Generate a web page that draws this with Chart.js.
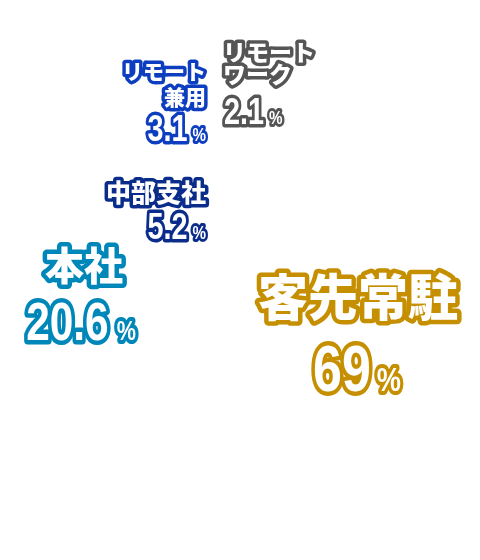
<!DOCTYPE html>
<html>
<head>
<meta charset="utf-8">
<script src="https://cdn.jsdelivr.net/npm/chart.js@4"></script>
<style>
  html, body { margin: 0; padding: 0; background: #ffffff; }
  #wrap { width: 480px; height: 560px; position: relative; }
</style>
</head>
<body>
<div id="wrap"><canvas id="shareChart"></canvas></div>
<script>
// 勤務形態の割合
const categories = ["客先常駐", "本社", "中部支社", "リモート\n兼用", "リモート\nワーク"];
const shares = [69, 20.6, 5.2, 3.1, 2.1];
const labelColors = ["#c58f00", "#0087b9", "#0a2c8a", "#0d3ec0", "#555555"];

// ラベルの配置（見た目用）
const labelLayout = [
  { x: 358, y: 297, align: "center", nameSize: 50, lineH: 0, numX: 357, numY: 391, numSize: 65, pctSize: 34, gap: 6, stroke: 9 },
  { x: 84, y: 265, align: "center", nameSize: 39, lineH: 0, numX: 81, numY: 340, numSize: 53, pctSize: 27, gap: 8, stroke: 9 },
  { x: 206, y: 192, align: "right", nameSize: 25, lineH: 0, numX: 206, numY: 239, numSize: 36, pctSize: 19, gap: 5, stroke: 7 },
  { x: 206, y: 71, align: "right", nameSize: 21, lineH: 26, numX: 206, numY: 141, numSize: 36, pctSize: 19, gap: 5, stroke: 7 },
  { x: 223, y: 52, align: "left", nameSize: 23, lineH: 22, numX: 224, numY: 124, numSize: 36, pctSize: 19, gap: 5, stroke: 7 },
];

const JP_FONT = '"Noto Sans CJK JP", "Noto Sans", sans-serif';
const NUM_FONT = '"Liberation Sans", Arial, sans-serif';
const NUM_SQUEEZE = 0.8;

function outlined(ctx, text, x, y, color, width) {
  ctx.lineJoin = "round";
  ctx.lineWidth = width;
  ctx.strokeStyle = color;
  ctx.strokeText(text, x, y);
  ctx.fillStyle = "#ffffff";
  ctx.fillText(text, x, y);
}

const sliceLabels = {
  id: "sliceLabels",
  afterDraw(chart) {
    const ctx = chart.ctx;
    ctx.save();
    categories.forEach((name, i) => {
      const l = labelLayout[i];
      const color = labelColors[i];

      // 名前
      ctx.font = `900 ${l.nameSize}px ${JP_FONT}`;
      ctx.textBaseline = "middle";
      ctx.textAlign = l.align;
      name.split("\n").forEach((line, j) => {
        outlined(ctx, line, l.x, l.y + j * l.lineH, color, l.stroke);
      });

      // 数値 + %（縦長に詰める）
      const num = String(shares[i]);
      ctx.textBaseline = "alphabetic";
      ctx.textAlign = "left";
      ctx.font = `bold ${l.numSize}px ${NUM_FONT}`;
      const nw = ctx.measureText(num).width * NUM_SQUEEZE;
      ctx.font = `bold ${l.pctSize}px ${NUM_FONT}`;
      const pw = ctx.measureText("%").width * NUM_SQUEEZE;
      const total = nw + l.gap + pw;
      let sx = l.numX;
      if (l.align === "center") sx = l.numX - total / 2;
      if (l.align === "right") sx = l.numX - total;

      ctx.save();
      ctx.translate(sx, l.numY);
      ctx.scale(NUM_SQUEEZE, 1);
      ctx.font = `bold ${l.numSize}px ${NUM_FONT}`;
      outlined(ctx, num, 0, 0, color, l.stroke);
      ctx.font = `bold ${l.pctSize}px ${NUM_FONT}`;
      outlined(ctx, "%", (nw + l.gap) / NUM_SQUEEZE, 0, color, l.stroke - 1);
      ctx.restore();
    });
    ctx.restore();
  },
};

new Chart(document.getElementById("shareChart"), {
  type: "pie",
  data: {
    labels: categories,
    datasets: [
      {
        data: shares,
        backgroundColor: "#ffffff",
        borderColor: "#ffffff",
        borderWidth: 0,
      },
    ],
  },
  options: {
    responsive: true,
    maintainAspectRatio: false,
    animation: false,
    plugins: {
      legend: { display: false },
      tooltip: { enabled: false },
    },
  },
  plugins: [sliceLabels],
});
</script>
</body>
</html>
